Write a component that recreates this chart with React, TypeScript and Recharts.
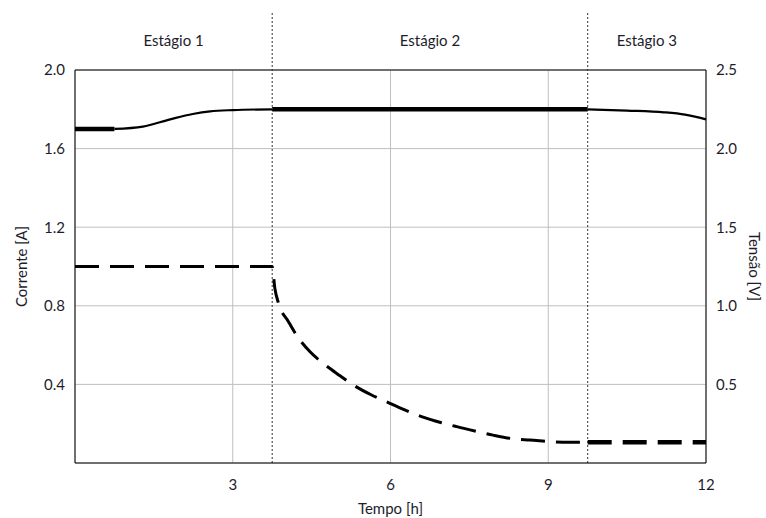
import {
  ComposedChart,
  Line,
  XAxis,
  YAxis,
  CartesianGrid,
  ReferenceLine,
  ReferenceArea,
} from "recharts";

// tempo [h] / tensão [V] (linha contínua, eixo direito)
const voltTime = [0, 0.75, 1.29, 1.81, 2.24, 2.57, 3.0, 3.75, 9.75, 10.5, 11.2, 11.6, 12];
const voltVals = [2.125, 2.125, 2.14, 2.186, 2.22, 2.237, 2.245, 2.25, 2.25, 2.242, 2.231, 2.216, 2.186];

// tempo [h] / corrente [A] (linha tracejada, eixo esquerdo)
const currTime = [0, 3.75, 3.8, 3.87, 4.06, 4.21, 4.47, 4.72, 5.04, 5.29, 5.64, 5.92, 6.27, 6.59, 6.97, 7.26, 7.67, 7.95, 8.37, 8.65, 9.09, 9.38, 9.75, 12];
const currVals = [1.0, 1.0, 0.89, 0.813, 0.719, 0.651, 0.566, 0.507, 0.444, 0.397, 0.346, 0.312, 0.27, 0.236, 0.205, 0.185, 0.159, 0.142, 0.122, 0.117, 0.108, 0.105, 0.105, 0.105];

const stages = [
  { name: "Estágio 1", from: 0, to: 3.75 },
  { name: "Estágio 2", from: 3.75, to: 9.75 },
  { name: "Estágio 3", from: 9.75, to: 12 },
];

const xTicks = [3, 6, 9, 12];
const leftTicks = [0.4, 0.8, 1.2, 1.6, 2.0];
const rightTicks = [0.5, 1.0, 1.5, 2.0, 2.5];

const seg = (times: number[], vals: number[], from: number, to: number) =>
  times
    .map((t, i) => ({ t, v: vals[i] }))
    .filter((p) => p.t >= from && p.t <= to);

const FONT = "Lato, 'Noto Sans', sans-serif";
const TXT = "#1d1d2b";
const FS = 15;

export default function App() {
  const tickStyle = { fontSize: FS, fill: TXT, fontFamily: FONT };
  const labelStyle = { fontSize: FS, fill: TXT, fontFamily: FONT };
  const fmt1 = (v: number) => v.toFixed(1);

  return (
    <div style={{ position: "absolute", left: 0, top: 0, width: 766, height: 518, background: "#fff" }}>
      <ComposedChart width={766} height={518} margin={{ top: 70, right: 0, bottom: 0, left: 0 }}>
        <CartesianGrid xAxisId="x" yAxisId="left" stroke="#bfbfbf" strokeWidth={1} />
        <XAxis
          xAxisId="x"
          type="number"
          dataKey="t"
          domain={[0, 12]}
          ticks={xTicks}
          height={55}
          tickLine={false}
          tickSize={14}
          axisLine={{ stroke: "#000" }}
          tick={tickStyle}
          label={{ value: "Tempo [h]", position: "insideBottom", offset: 4, style: labelStyle }}
        />
        <YAxis
          yAxisId="left"
          type="number"
          domain={[0, 2]}
          ticks={leftTicks}
          width={75}
          tickLine={false}
          tickSize={8}
          tickFormatter={fmt1}
          axisLine={{ stroke: "#000" }}
          tick={tickStyle}
          label={{ value: "Corrente [A]", angle: -90, position: "insideLeft", offset: 22, style: { ...labelStyle, textAnchor: "middle" } }}
        />
        <YAxis
          yAxisId="right"
          orientation="right"
          type="number"
          domain={[0, 2.5]}
          ticks={rightTicks}
          width={60}
          tickLine={false}
          tickSize={8}
          tickFormatter={fmt1}
          axisLine={{ stroke: "#000" }}
          tick={tickStyle}
          label={{ value: "Tensão [V]", angle: 90, position: "insideRight", offset: 12, style: { ...labelStyle, textAnchor: "middle" } }}
        />
        <ReferenceLine xAxisId="x" yAxisId="left" y={2} stroke="#000" strokeWidth={1} />

        {stages.map((s) => (
          <ReferenceArea
            key={s.name}
            xAxisId="x"
            yAxisId="left"
            x1={s.from}
            x2={s.to}
            y1={2.0}
            y2={2.3}
            ifOverflow="visible"
            fill="#fff"
            fillOpacity={0}
            stroke="none"
            label={{ value: s.name, position: "center", style: labelStyle }}
          />
        ))}
        {[3.75, 9.75].map((x) => (
          <ReferenceLine
            key={x}
            xAxisId="x"
            yAxisId="left"
            segment={[{ x, y: 0 }, { x, y: 2.3 }]}
            ifOverflow="visible"
            stroke="#333"
            strokeWidth={1}
            strokeDasharray="2 2"
          />
        ))}

        {/* corrente */}
        <Line xAxisId="x" yAxisId="left" data={seg(currTime, currVals, 0, 9.75)} dataKey="v" type="monotone"
          stroke="#000" strokeWidth={3} strokeDasharray="24 11" dot={false} isAnimationActive={false} />
        <Line xAxisId="x" yAxisId="left" data={seg(currTime, currVals, 9.75, 12)} dataKey="v" type="monotone"
          stroke="#000" strokeWidth={4.5} strokeDasharray="24 11" dot={false} isAnimationActive={false} />

        {/* tensão */}
        <Line xAxisId="x" yAxisId="right" data={seg(voltTime, voltVals, 0, 0.75)} dataKey="v" type="monotone"
          stroke="#000" strokeWidth={4.5} dot={false} isAnimationActive={false} />
        <Line xAxisId="x" yAxisId="right" data={seg(voltTime, voltVals, 0.75, 3.75)} dataKey="v" type="monotone"
          stroke="#000" strokeWidth={2.2} dot={false} isAnimationActive={false} />
        <Line xAxisId="x" yAxisId="right" data={seg(voltTime, voltVals, 3.75, 9.75)} dataKey="v" type="monotone"
          stroke="#000" strokeWidth={4.5} dot={false} isAnimationActive={false} />
        <Line xAxisId="x" yAxisId="right" data={seg(voltTime, voltVals, 9.75, 12)} dataKey="v" type="monotone"
          stroke="#000" strokeWidth={2.2} dot={false} isAnimationActive={false} />
      </ComposedChart>
    </div>
  );
}
